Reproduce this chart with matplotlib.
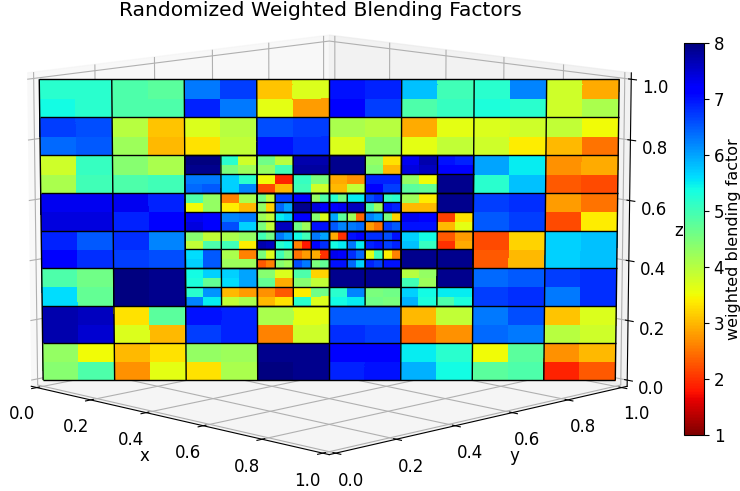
import numpy as np
import matplotlib
matplotlib.use("Agg")
import matplotlib.pyplot as plt
from matplotlib import cm
from matplotlib.colors import Normalize
from mpl_toolkits.mplot3d.art3d import Line3DCollection

# Quadrant values of the 8x8 coarse blocks (top row of the picture first)
coarse = [
 [5.2,5.2, 4.9,4.8, 6.3,6.7, 3.1,3.7, 7.0,6.9, 5.8,5.0, 5.2,6.2, 3.8,2.9],
 [5.4,5.2, 4.9,4.9, 6.9,6.3, 3.6,2.8, 7.2,6.7, 4.9,5.1, 5.3,5.2, 3.8,4.1],
 [6.7,6.6, 4.0,3.1, 3.7,4.0, 6.6,6.7, 4.1,4.0, 2.9,3.6, 3.7,3.8, 3.9,3.5],
 [6.4,6.5, 4.2,3.0, 3.3,3.9, 7.0,6.8, 3.7,4.3, 3.6,3.9, 3.8,3.4, 3.0,2.5],
 [3.8,5.1, 4.4,4.1, 6.5,6.5, 6.5,6.5, 6.5,6.5, 6.5,6.5, 6.0,5.5, 2.7,2.9],
 [4.1,5.0, 4.9,5.0, 6.5,6.5, 6.5,6.5, 6.5,6.5, 6.5,6.5, 5.2,5.8, 2.3,2.2],
 [7.3,7.3, 7.3,6.9, 6.5,6.5, 6.5,6.5, 6.5,6.5, 6.5,6.5, 6.7,6.8, 2.8,2.5],
 [7.4,7.4, 6.9,7.2, 6.5,6.5, 6.5,6.5, 6.5,6.5, 6.5,6.5, 6.5,6.7, 2.2,3.4],
 [6.9,6.5, 6.8,6.2, 6.5,6.5, 6.5,6.5, 6.5,6.5, 6.5,6.5, 2.2,3.2, 5.7,5.8],
 [7.1,6.8, 6.7,6.6, 6.5,6.5, 6.5,6.5, 6.5,6.5, 6.5,6.5, 2.3,3.0, 5.7,5.8],
 [4.9,4.6, 8.0,7.9, 6.5,6.5, 6.5,6.5, 6.5,6.5, 6.5,6.5, 6.4,6.5, 6.7,6.8],
 [5.6,4.7, 8.0,7.9, 6.5,6.5, 6.5,6.5, 6.5,6.5, 6.5,6.5, 6.7,6.8, 6.3,6.8],
 [7.7,7.6, 3.3,4.8, 7.0,6.9, 4.1,3.6, 6.5,6.5, 3.0,3.9, 6.3,6.6, 3.1,3.7],
 [7.7,7.5, 3.7,3.0, 6.7,6.9, 2.6,3.8, 6.8,6.7, 2.4,2.7, 6.4,6.3, 4.0,3.8],
 [4.3,3.5, 3.0,3.3, 4.3,4.2, 7.9,7.9, 7.1,7.1, 5.5,5.2, 3.5,4.8, 2.7,3.0],
 [4.4,4.9, 2.7,3.6, 3.3,4.1, 8.0,7.9, 6.9,7.0, 5.9,5.4, 4.8,4.9, 1.9,2.3],
]
# Quadrant values of the half-size blocks, columns 2-5 and rows 2-5 of the coarse grid
mid = [
 [8.0,8.0,5.2,3.8,4.6,4.0,7.7,7.7,7.9,7.9,4.3,3.3,7.3,7.7,7.0,6.9],
 [7.9,7.9,4.5,4.2,4.3,5.0,7.8,7.8,7.9,7.9,4.4,3.0,7.4,7.6,7.1,7.1],
 [6.3,6.3,5.7,5.2,3.5,1.9,5.1,4.5,2.9,2.7,6.9,6.9,4.3,3.5,7.9,7.9],
 [6.4,6.5,5.7,6.2,2.2,3.0,5.0,3.8,3.0,3.9,7.2,6.7,4.8,4.7,7.9,7.9],
 [4.9,4.3,2.6,4.1,6.5,6.5,6.5,6.5,6.5,6.5,6.5,6.5,4.2,3.4,7.9,7.9],
 [3.5,4.3,3.4,3.0,6.5,6.5,6.5,6.5,6.5,6.5,6.5,6.5,3.0,3.0,7.9,7.9],
 [7.3,7.1,6.2,6.3,6.5,6.5,6.5,6.5,6.5,6.5,6.5,6.5,7.3,7.2,2.1,3.3],
 [7.4,7.1,6.6,5.7,6.5,6.5,6.5,6.5,6.5,6.5,6.5,6.5,7.0,7.0,3.0,3.6],
 [4.4,3.9,4.1,4.3,6.5,6.5,6.5,6.5,6.5,6.5,6.5,6.5,5.7,5.4,2.3,2.8],
 [3.9,4.9,5.0,3.4,6.5,6.5,6.5,6.5,6.5,6.5,6.5,6.5,5.8,5.1,2.0,2.9],
 [5.6,6.5,4.1,2.6,6.5,6.5,6.5,6.5,6.5,6.5,6.5,6.5,7.9,7.9,7.9,7.9],
 [5.7,6.5,4.2,4.2,6.5,6.5,6.5,6.5,6.5,6.5,6.5,6.5,7.9,7.9,7.9,7.9],
 [5.4,5.7,5.7,6.0,4.4,3.7,4.9,3.2,7.9,7.9,7.9,7.9,4.0,4.3,7.9,7.9],
 [5.3,4.7,5.6,6.0,4.7,2.9,4.4,3.9,7.9,7.9,7.9,7.9,5.0,4.2,7.9,7.9],
 [5.2,6.1,3.0,2.8,2.7,2.3,3.4,4.6,5.2,6.2,4.5,4.6,5.7,5.4,5.5,5.5],
 [6.2,5.5,3.9,4.1,3.0,3.3,5.2,3.7,5.4,5.5,4.6,4.5,5.9,5.3,4.9,5.3],
]
# Left and right values of the quarter-size blocks, columns 3-4 and rows 3-4
fine = [
 [4.6,3.9,6.7,6.7,7.1,7.1,4.3,4.9,5.2,4.6,5.5,5.5,6.6,6.8,5.1,5.2],
 [4.3,3.2,6.4,6.0,7.9,7.9,7.4,7.2,7.2,7.3,7.6,7.6,4.9,4.2,7.0,6.9],
 [4.2,3.9,5.5,5.7,7.1,7.1,4.4,3.7,6.0,4.8,4.2,2.4,6.2,6.0,4.5,3.2],
 [4.5,3.9,7.6,7.6,4.6,4.2,7.0,7.0,6.5,6.2,6.3,6.4,2.8,2.5,6.7,6.5],
 [5.0,4.6,6.3,6.0,5.4,5.0,6.3,6.0,2.9,2.0,7.0,7.1,6.8,6.8,6.6,7.0],
 [7.7,7.6,5.2,5.4,2.6,1.8,7.1,6.8,5.4,5.5,6.3,5.5,6.9,7.0,6.7,6.9],
 [4.5,3.7,5.0,4.5,2.5,2.8,2.9,2.0,7.3,7.2,6.8,6.4,3.6,5.0,3.4,2.6],
 [2.3,2.6,4.4,4.2,6.6,6.3,4.5,4.7,7.0,7.0,6.4,5.7,6.9,6.7,7.0,7.0],
]
title = "Randomized Weighted Blending Factors"
cbar_label = "weighted blending factor"
ticks = [0.0, 0.2, 0.4, 0.6, 0.8, 1.0]
cbar_ticks = [1, 2, 3, 4, 5, 6, 7, 8]

V = np.kron(np.array(coarse), np.ones((4, 4)))
V[16:48, 16:48] = np.kron(np.array(mid), np.ones((2, 2)))
V[24:40, 24:40] = np.kron(np.array(fine), np.ones((2, 1)))
V = V[::-1]  # row 0 = bottom

n = V.shape[0]
u = np.linspace(0, 1, n + 1)
U, W = np.meshgrid(u, u)

norm = Normalize(1, 8)
cmap = matplotlib.colormaps["jet_r"]

fig = plt.figure(figsize=(7.4, 4.91), dpi=100)
ax = fig.add_axes([-0.0635, -0.2365, 0.99, 1.493], projection="3d")
ax.patch.set_alpha(0)
ax.computed_zorder = False
ax.plot_surface(U, U, W, facecolors=cmap(norm(V)), rstride=1, cstride=1,
                shade=False, linewidth=0, antialiased=False, zorder=1)

# block outlines
segs = []
def outline(i0, i1, j0, j1, step):
    for i in range(i0, i1 + 1, step):
        segs.append([(u[i], u[i], u[j0]), (u[i], u[i], u[j1])])
    for j in range(j0, j1 + 1, step):
        segs.append([(u[i0], u[i0], u[j]), (u[i1], u[i1], u[j])])
outline(0, 64, 0, 64, 8)
outline(16, 48, 16, 48, 4)
outline(24, 40, 24, 40, 2)
ax.add_collection3d(Line3DCollection(segs, colors="k", linewidths=1.0, zorder=2))

margin = 1 / 48
ax.set_xlim(-margin, 1 + margin); ax.set_ylim(-margin, 1 + margin); ax.set_zlim(-margin, 1 + margin)
ax.set_xticks(ticks); ax.set_yticks(ticks); ax.set_zticks(ticks)
ax.tick_params(labelsize=12)
ax.tick_params(axis="x", pad=5)
ax.tick_params(axis="y", pad=5)
ax.tick_params(axis="z", pad=3)
ax.set_xlabel("x", fontsize=12, labelpad=5)
ax.set_ylabel("y", fontsize=12, labelpad=5)
ax.set_zlabel("z", fontsize=12, labelpad=1.5)
ax.view_init(elev=10, azim=-45)
ax.set_box_aspect((4, 4, 3), zoom=0.9)
fig.text(0.4335, 0.978, title, fontsize=14.6, ha="center", va="center")

cax = fig.add_axes([684 / 740, 1 - 435 / 491, 20 / 740, 392 / 491])
sm = cm.ScalarMappable(norm=norm, cmap=cmap)
cb = fig.colorbar(sm, cax=cax, ticks=cbar_ticks)
cb.ax.tick_params(labelsize=12)
cb.set_label(cbar_label, fontsize=11.5, labelpad=1)
fig.savefig("out.png", dpi=100)
